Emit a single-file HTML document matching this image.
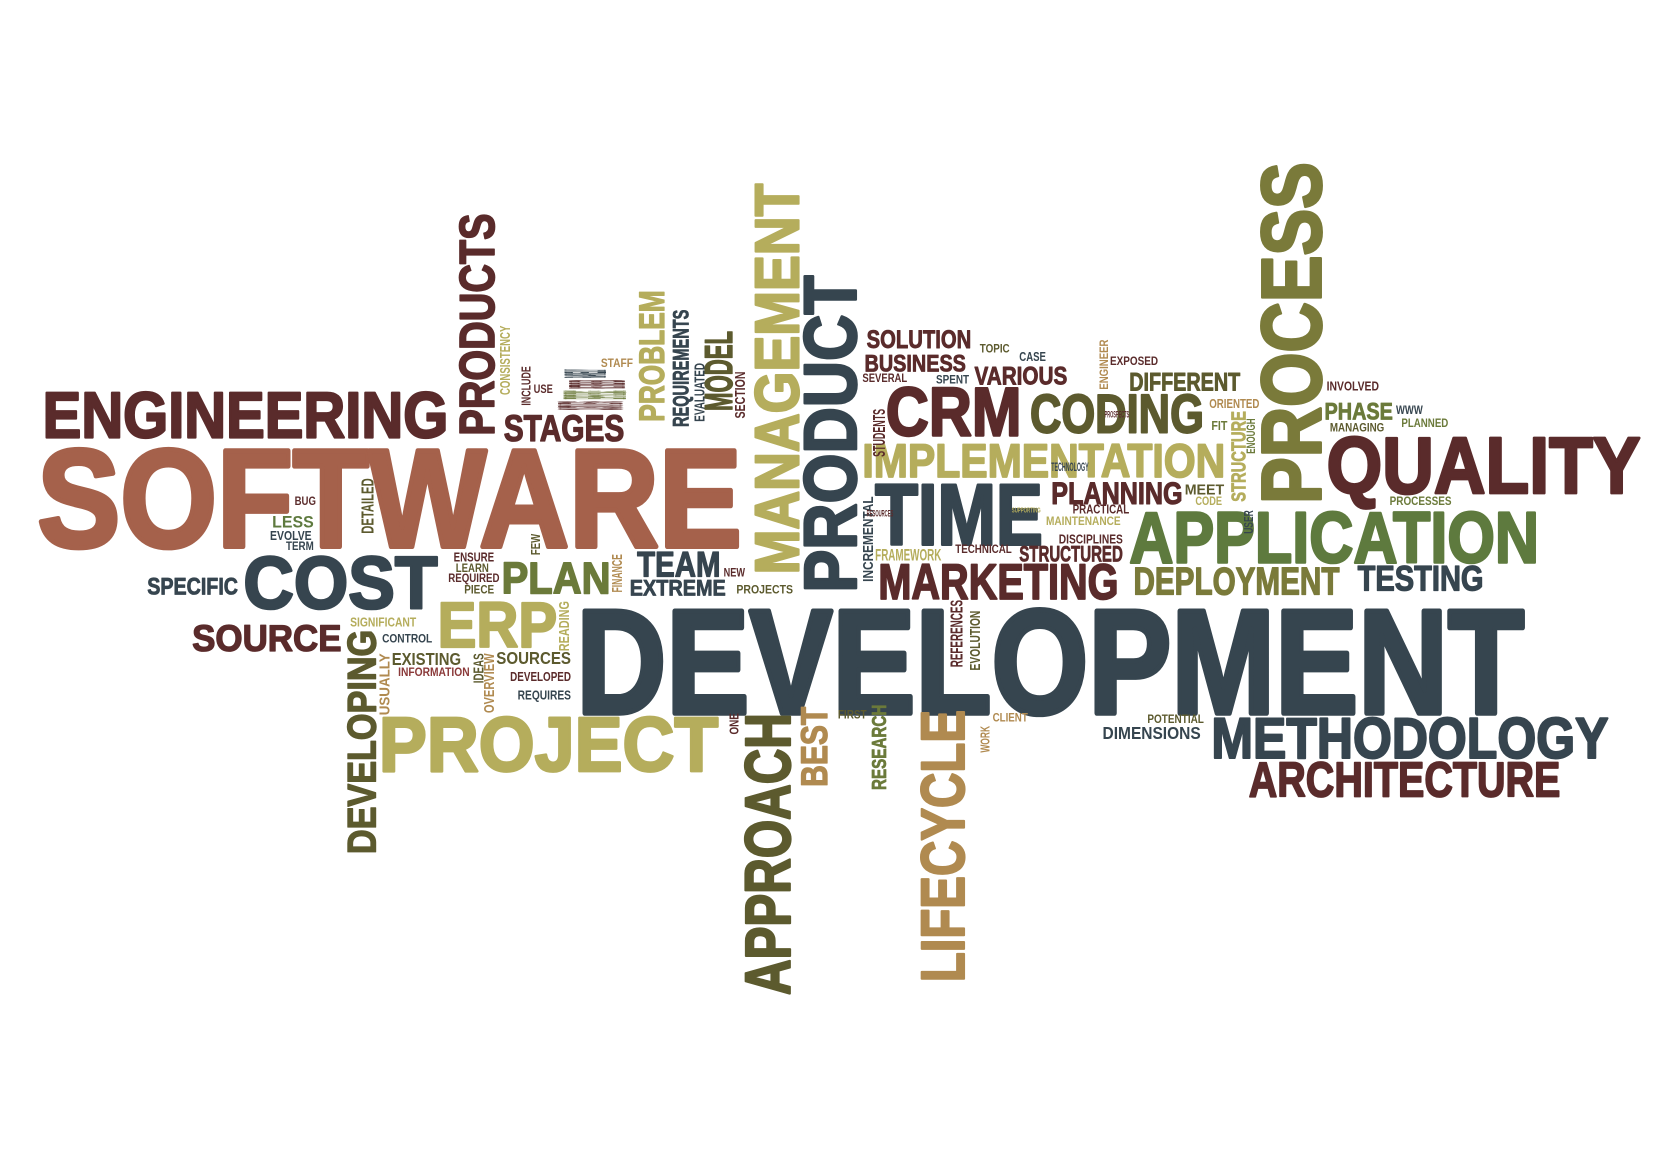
<!DOCTYPE html>
<html><head><meta charset="utf-8">
<style>
html,body{margin:0;padding:0;background:#fff;}
svg{display:block;}
text{font-family:"Liberation Sans","DejaVu Sans",sans-serif;font-weight:bold;}
</style></head>
<body>
<svg id="cloud" width="1665" height="1153" viewBox="0 0 1560 1080" preserveAspectRatio="none" xmlns="http://www.w3.org/2000/svg"></svg>
<script>
const words=["SOFTWARE","DEVELOPMENT","ENGINEERING","QUALITY","APPLICATION","PROJECT","METHODOLOGY","ARCHITECTURE","COST","ERP","TIME","CRM","CODING","IMPLEMENTATION","MARKETING","PLANNING","DEPLOYMENT","TESTING","STAGES","PLAN","TEAM","EXTREME","SPECIFIC","SOURCE","SOLUTION","BUSINESS","VARIOUS","DIFFERENT","PHASE","STRUCTURED","FRAMEWORK","EXISTING","SOURCES","DIMENSIONS",
"PROCESS","PRODUCT","MANAGEMENT","PRODUCTS","APPROACH","LIFECYCLE","DEVELOPING","PROBLEM","REQUIREMENTS","MODEL","RESEARCH","STRUCTURE","INCREMENTAL","EVOLUTION","REFERENCES","USUALLY","OVERVIEW","IDEAS","CONSISTENCY","DETAILED","FINANCE","READING","EVALUATED","SECTION","WORK","ENOUGH","USER","FEW","INCLUDE","ONE","ENGINEER","BEST","STUDENTS",
"RARELY","RETRIEVED","EXPERIENCE","CUSTOMERS","USE","STAFF","TOPIC","CASE","SEVERAL","SPENT","EXPOSED","INVOLVED","ORIENTED","WWW","MANAGING","PLANNED","FIT","MEET","CODE","PROCESSES","PRACTICAL","MAINTENANCE","DISCIPLINES","TECHNICAL","PROJECTS","NEW","ENSURE","LEARN","REQUIRED","PIECE","SIGNIFICANT","CONTROL","INFORMATION","DEVELOPED","REQUIRES","BUG","LESS","EVOLVE","TERM","POTENTIAL","CLIENT","FIRST","TECHNOLOGY","SUPPORTING","RESOURCES","PROSPECTS"];
const xs=[35,540,40,1243,1058,355,1135,1170,228,410,820,830,965,808,823,985,1062,1272,472,470,597,590,138,180,812,810,913,1058,1241,955,820,367,465,1033,
1180,752,706,430,697,862,325,598,630,660,816,1153,808,908,890,355,453,443,468,338,573,523,650,688,918,1168,1165,497,488,683,1030,750,817,
528,532,527,522,500,563,918,955,808,877,1040,1243,1133,1308,1246,1313,1135,1110,1120,1302,1005,980,992,895,690,678,425,427,420,435,328,358,373,478,485,276,255,253,268,1075,930,785,985,948,812,1035];
const ys=[418,568,366,408,478,670,671,713,520,563,452,362,368,415,527,451,531,529,388,526,516,543,541,585,309,332,343,349,377,511,514,611,610,680,
152,258,172,200,668,665,590,272,290,310,660,385,465,572,562,612,612,612,305,448,519,563,340,348,680,392,478,500,343,668,318,662,383,
346,356,366,376,360,336,322,329,350,351,334,357,373,380,396,392,394,453,465,465,472,484,500,510,548,532,517,528,537,548,578,594,625,629,646,465,483,497,507,669,668,665,433,475,478,385];
const ws=[660,888,380,294,384,318,372,292,182,112,157,127,163,340,225,123,193,118,113,102,78,90,85,140,98,95,87,104,64,97,62,65,70,92,
57,50,42,33,43,41,27,24,15,26,14,14,10,10,12,10,10,10,10,12,10,10,10,10,9,8,9,9,9,9,8,25,12,
39,52,58,60,18,30,28,25,42,31,45,49,47,25,51,44,15,37,25,58,53,70,60,53,53,20,38,31,48,28,62,47,67,57,50,20,39,39,26,53,33,27,35,27,25,23];
const hs=[94,100,44,54,49,52,39,33,50,43,58,46,37,32,34,21,26,24,25,30,24,15,16,25,17,16,17,17,16,15,11,12,12,12,
320,297,366,208,264,255,210,123,110,75,80,85,80,56,63,58,56,28,65,52,36,47,55,44,25,33,22,20,37,20,47,75,45,
8,8,8,8,8,8,8,9,8,8,8,9,9,8,8,8,9,10,8,8,9,8,9,8,8,8,9,8,8,8,9,8,8,9,9,8,11,9,8,8,8,8,8,5,6,6,6];
const rot=[0,0,0,0,0,0,0,0,0,0,0,0,0,0,0,0,0,0,0,0,0,0,0,0,0,0,0,0,0,0,0,0,0,0,
1,1,1,1,1,1,1,1,1,1,1,1,1,1,1,1,1,1,1,1,1,1,1,1,1,1,1,1,1,1,1,1,1,1,1,1,1,
0,0,0,0,0,0,0,0,0,0,0,0,0,0,0,0,0,0,0,0,0,0,0,0,0,0,0,0,0,0,0,0,0,0,0,0,0,0,0,0,0,0,0,0,0,0];
const colors=["#a5614b","#36454f","#5a2b2b","#5a2b2b","#5e7a3e","#b5ad5c","#36454f","#5a2b2b","#36454f","#b5ad5c","#36454f","#5a2b2b","#5c5a2e","#b5ad5c","#5a2b2b","#5a2b2b","#7a7a3a","#36454f","#5a2b2b","#6b7a3a","#36454f","#36454f","#36454f","#5a2b2b","#5a2b2b","#5a2b2b","#5a2b2b","#5c5a2e","#6b7a3a","#5a2b2b","#b5ad5c","#5c5a2e","#5c5a2e","#36454f",
"#7a7a3a","#36454f","#b5ad5c","#5a2b2b","#5c5a2e","#b08a50","#5c5a2e","#b5ad5c","#36454f","#5c5a2e","#6b7a3a","#b5ad5c","#36454f","#5c5a2e","#5a2b2b","#b08a50","#b08a50","#5c5a2e","#b5ad5c","#5c5a2e","#b08a50","#b5ad5c","#36454f","#5a2b2b","#b08a50","#6b7a3a","#36454f","#5c5a2e","#5a2b2b","#5a2b2b","#b08a50","#b08a50","#5a2b2b",
"#36454f","#5a2b2b","#6b7a3a","#5a2b2b","#5a2b2b","#b08a50","#5c5a2e","#36454f","#5a2b2b","#36454f","#5a2b2b","#5a2b2b","#b08a50","#36454f","#5c5a2e","#6b7a3a","#6b7a3a","#5c5a2e","#b5ad5c","#6b7a3a","#5a2b2b","#b5ad5c","#5a2b2b","#5a2b2b","#5c5a2e","#5a2b2b","#5a2b2b","#5c5a2e","#5a2b2b","#5c5a2e","#b5ad5c","#36454f","#8b3a3a","#5a2b2b","#36454f","#5a2b2b","#5e7a3e","#36454f","#36454f","#5c5a2e","#b08a50","#5c5a2e","#36454f","#b5ad5c","#5a2b2b","#5a2b2b"];
const NS="http://www.w3.org/2000/svg";
const svg=document.getElementById('cloud');
const CAP=0.72;
for(let i=0;i<words.length;i++){
  const t=document.createElementNS(NS,'text');
  
  
  t.textContent=words[i];
  t.setAttribute('fill',colors[i]);
  const big=rot[i]?ws[i]:hs[i];
  const len=rot[i]?hs[i]:ws[i];
  const fs=big/CAP;
  t.setAttribute('font-size',fs.toFixed(2));
  t.setAttribute('lengthAdjust','spacingAndGlyphs');
  t.setAttribute('textLength',len);
  if(big>=14){
    t.setAttribute('stroke',colors[i]);
    t.setAttribute('stroke-width',(fs*0.035).toFixed(2));
    t.setAttribute('stroke-linejoin','round');
  }
  if(rot[i]){
    t.setAttribute('x',0);t.setAttribute('y',0);
    t.setAttribute('transform','translate('+(xs[i]+ws[i])+','+(ys[i]+hs[i])+') rotate(-90)');
  }else{
    t.setAttribute('x',xs[i]);
    t.setAttribute('y',ys[i]+hs[i]);
  }
  svg.appendChild(t);
}
</script>
</body></html>
